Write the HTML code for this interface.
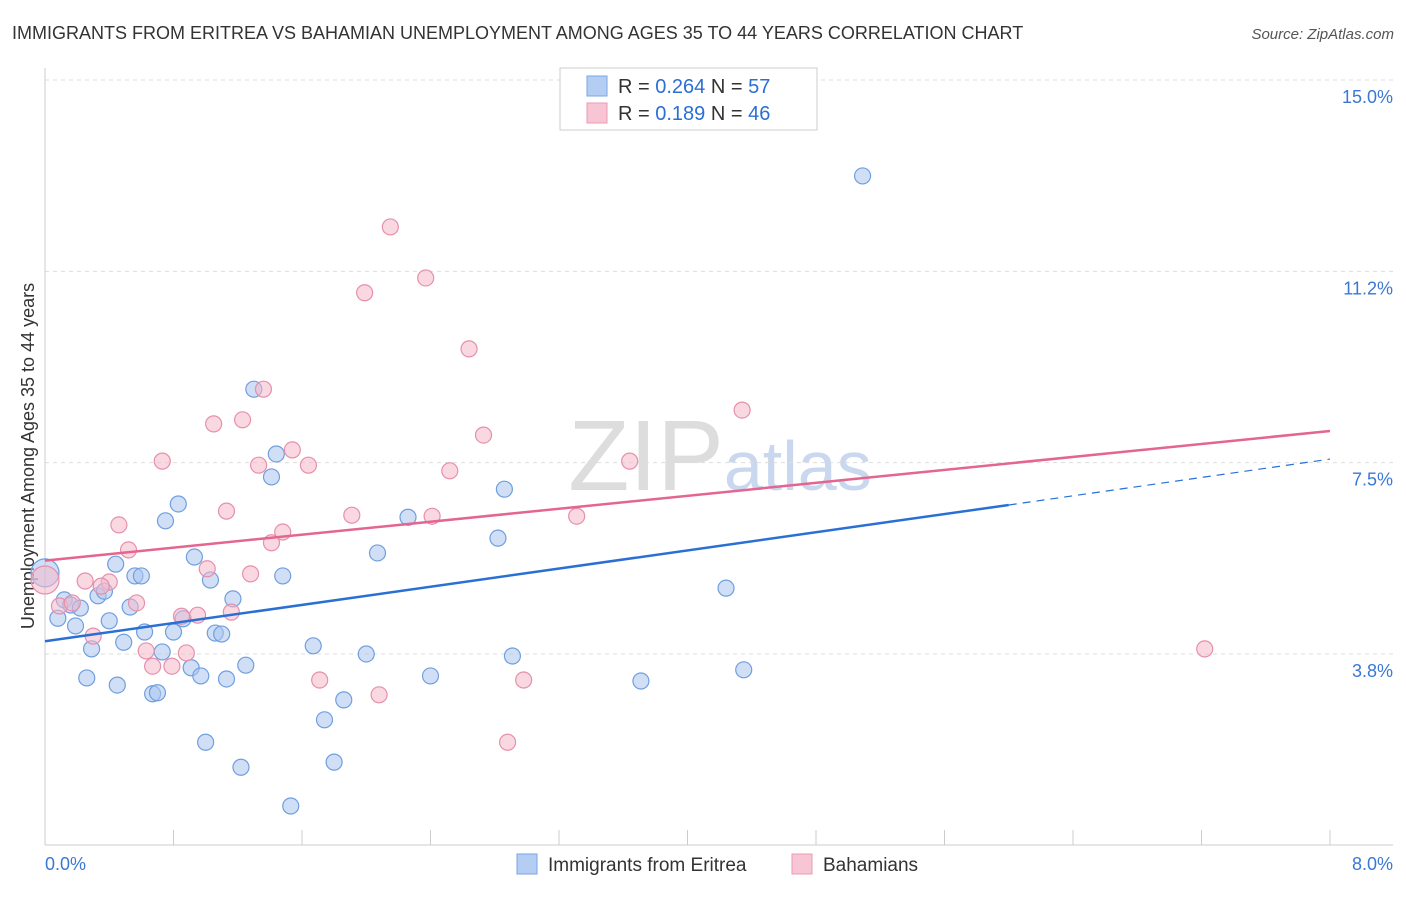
<!DOCTYPE html>
<html><head><meta charset="utf-8"><style>
body{margin:0;background:#fff;font-family:"Liberation Sans",sans-serif;}
svg text{font-family:"Liberation Sans",sans-serif;}
</style></head><body>
<svg id="chart" width="1406" height="892" xmlns="http://www.w3.org/2000/svg">
<text x="12" y="39" font-size="18" fill="#333">IMMIGRANTS FROM ERITREA VS BAHAMIAN UNEMPLOYMENT AMONG AGES 35 TO 44 YEARS CORRELATION CHART</text>
<text x="1394" y="39" font-size="15" fill="#555" text-anchor="end" font-style="italic">Source: ZipAtlas.com</text>
<text x="720" y="490" font-size="100" fill="#ddd" text-anchor="middle" font-family="Liberation Serif">ZIP<tspan fill="#c9d8ee" font-family="Liberation Sans" font-size="70">atlas</tspan></text>
<text transform="translate(34,456) rotate(-90)" font-size="18" fill="#333" text-anchor="middle">Unemployment Among Ages 35 to 44 years</text>
<g id="grid"></g><g id="axes"></g><g id="pts"></g><g id="lines"></g>
<g>
<rect x="560" y="68" width="257" height="62" fill="#fff" stroke="#ccc"/>
<rect x="587" y="76" width="20" height="20" fill="#b3cdf3" stroke="#7aa6e3"/>
<text x="618" y="93" font-size="20" fill="#333">R = <tspan fill="#2a6fd4">0.264</tspan>   N = <tspan fill="#2a6fd4">57</tspan></text>
<rect x="587" y="103" width="20" height="20" fill="#f8c5d5" stroke="#ea9bb5"/>
<text x="618" y="120" font-size="20" fill="#333">R =  <tspan fill="#2a6fd4">0.189</tspan>   N = <tspan fill="#2a6fd4">46</tspan></text>
</g>
<g>
<rect x="517" y="854" width="20" height="20" fill="#b3cdf3" stroke="#7aa6e3"/>
<text x="548" y="871" font-size="19" fill="#333">Immigrants from Eritrea</text>
<rect x="792" y="854" width="20" height="20" fill="#f8c5d5" stroke="#ea9bb5"/>
<text x="823" y="871" font-size="19" fill="#333">Bahamians</text>
</g>
</svg>
<script>
const yTicks=[15.0,11.25,7.5,3.75];
const yTickLabels=["15.0%","11.2%","7.5%","3.8%"];
const xTickLabels=["0.0%","8.0%"];
const blueX=[5.09,1.30,1.44,1.41,2.86,0.83,0.75,2.26,2.82,2.07,0.93,0.44,0.56,0.60,1.48,1.03,4.24,0,0.33,0.37,1.17,0.12,0.16,0.22,0.53,0.08,0.40,0.86,0.19,0.62,0.80,1.06,1.10,0.49,1.67,0.29,0.73,2.00,2.91,0.91,1.25,4.35,0.97,0.26,1.13,2.40,3.71,0.45,0.67,0.70,1.86,1.74,1.00,1.80,1.22,1.53];
const blueY=[13.12,8.94,7.67,7.22,6.98,6.69,6.36,6.43,6.02,5.73,5.65,5.51,5.28,5.28,5.28,5.20,5.04,5.34,4.89,4.98,4.83,4.81,4.71,4.65,4.67,4.45,4.40,4.44,4.30,4.18,4.18,4.16,4.14,3.98,3.91,3.85,3.79,3.75,3.71,3.48,3.53,3.44,3.32,3.28,3.26,3.32,3.22,3.14,2.97,2.99,2.85,2.46,2.02,1.63,1.53,0.77];
const pinkX=[2.15,2.37,1.99,2.64,1.36,4.34,1.05,1.23,2.73,1.54,0.73,1.33,1.64,3.64,2.52,1.13,1.91,2.41,3.31,0.46,1.48,1.41,0.52,0,1.01,1.28,0.25,0.40,0.35,0.57,0.09,0.17,0.85,0.95,1.16,0.30,0.63,0.88,7.22,0.67,0.79,1.71,2.98,2.08,2.88];
const pinkY=[12.12,11.12,10.83,9.73,8.94,8.53,8.26,8.34,8.04,7.75,7.53,7.45,7.45,7.53,7.34,6.55,6.47,6.45,6.45,6.28,6.14,5.93,5.79,5.20,5.42,5.32,5.18,5.16,5.08,4.75,4.69,4.75,4.49,4.51,4.57,4.10,3.81,3.77,3.85,3.51,3.51,3.24,3.24,2.95,2.02];
const blueTrend=[4.0,6.67]; // y at x=0 and x=6.0 (solid end)
const blueTrendEnd=7.57; // y at x=8
const pinkTrend=[5.58,8.12]; // y at x=0 and x=8
const NS="http://www.w3.org/2000/svg";
const xs=v=>45+v*160.625, ys=v=>80+(15-v)*51.02;
function mk(tag,attrs,parent){const e=document.createElementNS(NS,tag);for(const k in attrs)e.setAttribute(k,attrs[k]);document.getElementById(parent).appendChild(e);return e;}
yTicks.forEach((t,i)=>{
  const l=mk('line',{x1:45,x2:1393,y1:ys(t),y2:ys(t),stroke:'#ddd','stroke-dasharray':'4,4'},'grid');
  
  
  const tx=mk('text',{x:1393,y:ys(t)+23,'font-size':18,fill:'#3a78d4','text-anchor':'end'},'grid');
  tx.textContent=yTickLabels[i];
  
  
});
const ax=mk('line',{x1:45,x2:1393,y1:845,y2:845,stroke:'#ccc'},'axes');


const ay=mk('line',{x1:45,x2:45,y1:68,y2:845,stroke:'#ccc'},'axes');


for(let i=0;i<=10;i++){const t=mk('line',{x1:xs(i*0.8),x2:xs(i*0.8),y1:830,y2:845,stroke:'#ccc'},'axes');
  
  }
[[45,'start',0],[1393,'end',1]].forEach(([x,a,i])=>{const t=mk('text',{x:x,y:870,'font-size':18,fill:'#3a78d4','text-anchor':a},'axes');t.textContent=xTickLabels[i];
  
  });
function pts(X,Y,fill,stroke,name){X.forEach((x,i)=>{const r=x===0?14:8;const c=mk('circle',{cx:xs(x),cy:ys(Y[i]),r:r,fill:fill,'fill-opacity':0.55,stroke:stroke,'stroke-width':1.2},'pts');
  
  });}
pts(blueX,blueY,'#a9c5ef','#6f9fdf','eritrea-point');
pts(pinkX,pinkY,'#f4b8cb','#e690ab','bahamian-point');
const b1=mk('line',{x1:xs(0),y1:ys(blueTrend[0]),x2:xs(6.0),y2:ys(blueTrend[1]),stroke:'#2a6fd4','stroke-width':2.5},'lines');


const b2=mk('line',{x1:xs(6.0),y1:ys(blueTrend[1]),x2:xs(8),y2:ys(blueTrendEnd),stroke:'#2a6fd4','stroke-width':1.2,'stroke-dasharray':'8,6'},'lines');


const p1=mk('line',{x1:xs(0),y1:ys(pinkTrend[0]),x2:xs(8),y2:ys(pinkTrend[1]),stroke:'#e36590','stroke-width':2.5},'lines');


</script>
</body></html>
